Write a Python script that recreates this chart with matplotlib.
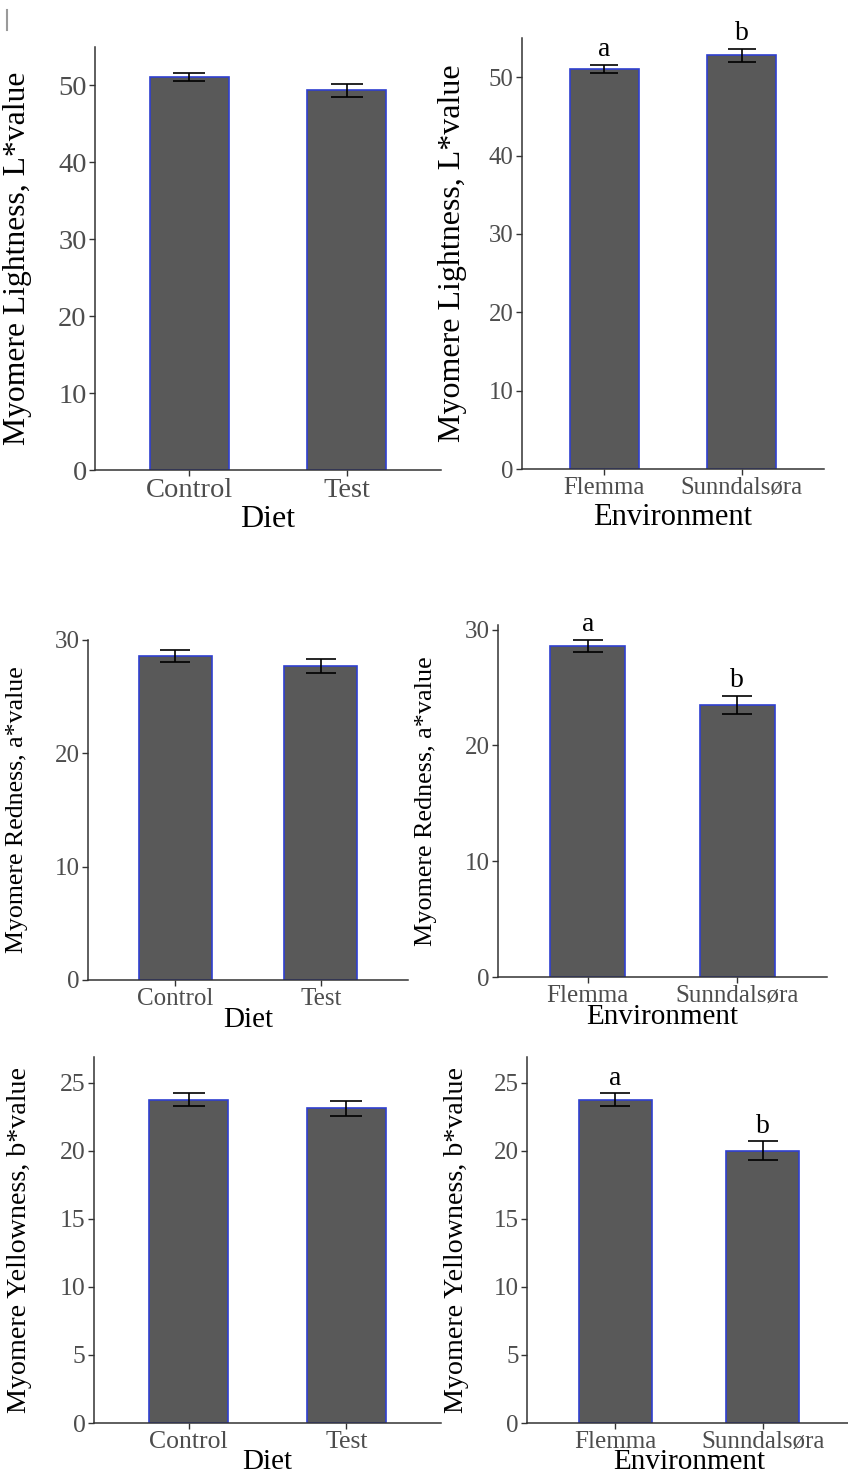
import numpy as np
import matplotlib.pyplot as plt
from matplotlib.lines import Line2D

plt.rcParams['font.family'] = 'Liberation Serif'

# group means and standard errors read per panel
diet = ['Control', 'Test']
env = ['Flemma', 'Sunndalsøra']

L_diet = [51.1, 49.35]
L_diet_err = [0.5, 0.85]
L_env = [51.05, 52.8]
L_env_err = [0.5, 0.8]

a_diet = [28.6, 27.7]
a_diet_err = [0.5, 0.6]
a_env = [28.6, 23.5]
a_env_err = [0.5, 0.75]

b_diet = [23.75, 23.15]
b_diet_err = [0.48, 0.55]
b_env = [23.75, 20.0]
b_env_err = [0.48, 0.7]

env_letters = ['a', 'b']

W, H = 848, 1477
DPI = 100
fig = plt.figure(figsize=(W / DPI, H / DPI), dpi=DPI)

TICK_GREY = '#4d4d4d'
AXIS_GREY = '#333333'
FILL = '#595959'
EDGE = '#2f3fd0'


def add_panel(box, cats, vals, errs, ymax, yticks, ylabel, xlabel,
              ylabel_x, ylab_size, xlab_size, tick_size, xpad, letters=None):
    left, right, top, bottom = box
    ax = fig.add_axes([left / W, 1 - bottom / H, (right - left) / W, (bottom - top) / H])
    x = np.arange(1, len(cats) + 1)
    ax.bar(x, vals, width=0.5, color=FILL, edgecolor=EDGE, linewidth=1.2, zorder=2)
    px_per_unit = (right - left) / 2.2
    cap = 0.1 * px_per_unit * 72 / DPI
    ax.errorbar(x, vals, yerr=errs, fmt='none', ecolor='black', elinewidth=1.2,
                capsize=cap, capthick=1.2, zorder=3)
    if letters:
        for xi, v, e, t in zip(x, vals, errs, letters):
            ax.annotate(t, (xi, v + e), xytext=(0, 2), textcoords='offset points',
                        ha='center', va='bottom', fontsize=20, color='black')
    ax.set_xlim(0.4, 2.6)
    ax.set_ylim(0, ymax)
    ax.set_xticks(x)
    ax.set_xticklabels(cats)
    ax.set_yticks(yticks)
    for s in ['top', 'right']:
        ax.spines[s].set_visible(False)
    for s in ['left', 'bottom']:
        ax.spines[s].set_color(AXIS_GREY)
        ax.spines[s].set_linewidth(1.1)
    ax.tick_params(axis='both', colors=AXIS_GREY, labelcolor=TICK_GREY,
                   labelsize=tick_size, length=4, width=1.0, pad=2)
    ax.set_xlabel(xlabel, fontsize=xlab_size, labelpad=xpad)
    ax.set_ylabel(ylabel, fontsize=ylab_size)
    ax.yaxis.set_label_coords(ylabel_x / W, 1 - (top + bottom) / 2 / H,
                              transform=fig.transFigure)
    ax.set_facecolor('none')
    return ax


add_panel((95, 441, 47, 470), diet, L_diet, L_diet_err, 55, [0, 10, 20, 30, 40, 50],
          'Myomere Lightness, L*value', 'Diet', 32, 22.8, 23, 20.5, 1.5)
add_panel((522, 824, 38, 469), env, L_env, L_env_err, 55, [0, 10, 20, 30, 40, 50],
          'Myomere Lightness, L*value', 'Environment', 467, 23, 22, 17.8, 2.5, env_letters)

add_panel((88, 408, 640, 980), diet, a_diet, a_diet_err, 30, [0, 10, 20, 30],
          'Myomere Redness, a*value', 'Diet', 28, 18.6, 21, 18, -2.5)
add_panel((498, 827, 625, 977), env, a_env, a_env_err, 30.4, [0, 10, 20, 30],
          'Myomere Redness, a*value', 'Environment', 437, 18.8, 21, 18, -2.5, env_letters)

add_panel((94, 441, 1057, 1423), diet, b_diet, b_diet_err, 26.9, [0, 5, 10, 15, 20, 25],
          'Myomere Yellowness, b*value', 'Diet', 32, 20.2, 21, 18.5, -3)
add_panel((527, 851, 1057, 1423), env, b_env, b_env_err, 26.9, [0, 5, 10, 15, 20, 25],
          'Myomere Yellowness, b*value', 'Environment', 469, 20.2, 21, 18, -3, env_letters)

# small stray mark in the top-left corner
fig.add_artist(Line2D([7 / W, 7 / W], [1 - 10 / H, 1 - 30 / H], color='#9a9a9a', lw=1.5))

fig.savefig('out.png', dpi=DPI)
